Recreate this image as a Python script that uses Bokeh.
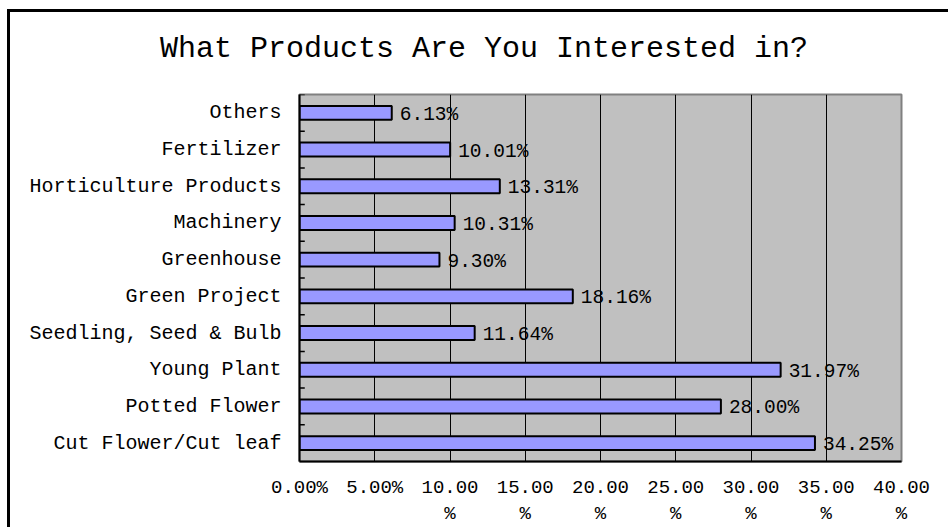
from bokeh.plotting import figure
from bokeh.models import ColumnDataSource, FactorRange, Range1d, FixedTicker, LabelSet
from bokeh.core.properties import value
from bokeh.transform import dodge
from bokeh.embed import file_html
from bokeh.resources import INLINE

# ---- data (top to bottom as shown) ----
categories = ["Others", "Fertilizer", "Horticulture Products", "Machinery", "Greenhouse",
              "Green Project", "Seedling, Seed & Bulb", "Young Plant", "Potted Flower",
              "Cut Flower/Cut leaf"]
values = [6.13, 10.01, 13.31, 10.31, 9.30, 18.16, 11.64, 31.97, 28.00, 34.25]
value_labels = ["6.13%", "10.01%", "13.31%", "10.31%", "9.30%", "18.16%", "11.64%",
                "31.97%", "28.00%", "34.25%"]
x_ticks = [0, 5, 10, 15, 20, 25, 30, 35, 40]
x_tick_labels = ["0.00%", "5.00%", "10.00\n%", "15.00\n%", "20.00\n%", "25.00\n%",
                 "30.00\n%", "35.00\n%", "40.00\n%"]
title_text = "What Products Are You Interested in?"

FONT = "Liberation Mono"

src = ColumnDataSource(dict(cat=categories, val=values, lab=value_labels))

p = figure(width=948, height=527, output_backend="svg", toolbar_location=None,
           y_range=FactorRange(factors=list(reversed(categories)), range_padding=0),
           x_range=Range1d(0, 40),
           min_border_left=299, min_border_right=47, min_border_top=94, min_border_bottom=66,
           styles={"box-shadow": "inset 7px 9px 0 0 white, inset 10px 12px 0 0 black",
                   "background-color": "white"})

p.background_fill_color = "#C0C0C0"
p.border_fill_alpha = 0
p.outline_line_color = "#808080"
p.outline_line_width = 2

p.hbar(y="cat", right="val", height=0.38, source=src,
       fill_color="#9999FF", line_color="black", line_width=2)

p.add_layout(LabelSet(x="val", y="cat", text="lab", source=src, x_offset=8, y_offset=-2,
                      text_font=value(FONT), text_font_size=value("19.5px"),
                      text_color="black", text_baseline="middle", text_align="left"))

# category boundary ticks (inside)
p.segment(x0=0, x1=0.35, y0=dodge("cat", 0.5, range=p.y_range),
          y1=dodge("cat", 0.5, range=p.y_range), source=src, line_color="black", line_width=1.5)

# grid
p.ygrid.visible = False
p.xgrid.ticker = FixedTicker(ticks=x_ticks[1:-1])
p.xgrid.grid_line_color = "black"
p.xgrid.grid_line_width = 1
p.xgrid.grid_line_alpha = 1

# x axis
xa = p.xaxis[0]
xa.ticker = FixedTicker(ticks=x_ticks)
xa.major_label_overrides = {t: l for t, l in zip(x_ticks, x_tick_labels)}
xa.major_tick_in = 0
xa.major_tick_out = 0
xa.minor_tick_in = 0
xa.minor_tick_out = 0
xa.axis_line_color = "black"
xa.axis_line_width = 2
xa.major_label_text_font = FONT
xa.major_label_text_font_size = "19px"
xa.major_label_text_color = "black"
xa.major_label_standoff = 15

# y axis
ya = p.yaxis[0]
ya.major_tick_in = 0
ya.major_tick_out = 0
ya.axis_line_color = "black"
ya.axis_line_width = 2
ya.major_label_text_font = FONT
ya.major_label_text_font_size = "20px"
ya.major_label_text_color = "black"
ya.major_label_standoff = 18
ya.major_label_overrides = {"Others": "Others\u00a0"}

# title
p.title.text = title_text
p.title.align = "left"
p.title.offset = -139.5
p.title.text_font = FONT
p.title.text_font_size = "30px"
p.title.text_font_style = "normal"
p.title.text_color = "black"
p.title.standoff = 57

open("out.html", "w").write(file_html(p, INLINE))
